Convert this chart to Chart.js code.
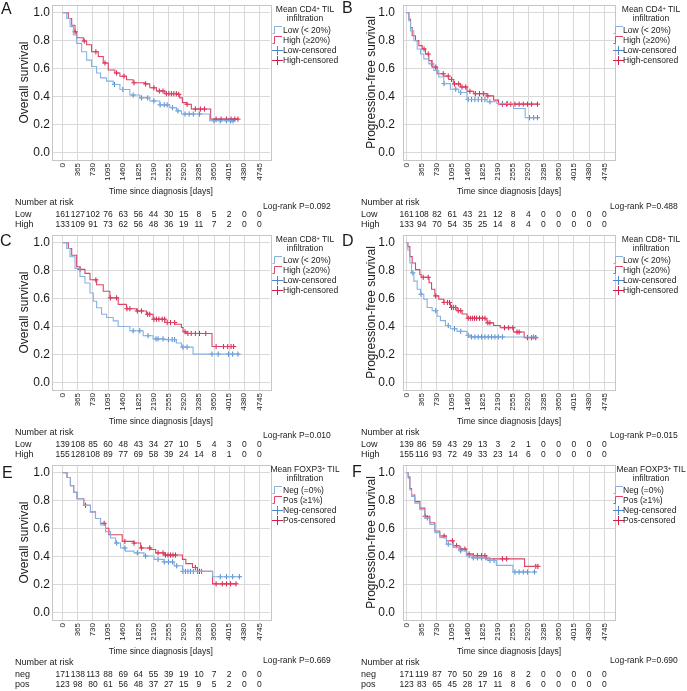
<!DOCTYPE html>
<html>
<head>
<meta charset="utf-8">
<script src="https://cdn.jsdelivr.net/npm/chart.js@4"></script>
<style>
body { margin: 0; background: #fff; }
#fig { position: relative; width: 687px; height: 691px; overflow: hidden;
  font-family: "Liberation Sans", Arial, sans-serif; color: #1a1a1a; }
#fig canvas { position: absolute; }
.t { position: absolute; white-space: nowrap; line-height: 1; }
.t sup { font-size: 0.65em; vertical-align: 0.45em; line-height: 0; }
.ic { position: absolute; line-height: 0; }
.ic svg { display: block; }
</style>
</head>
<body>
<div id="fig"></div>
<script>
// axis ticks
const xTicks = [0, 365, 730, 1095, 1460, 1825, 2190, 2555, 2920, 3285, 3650, 4015, 4380, 4745];
const yTicks = [0, 0.2, 0.4, 0.6, 0.8, 1.0];

// A - overall survival, CD4
const aLowT = [0, 96, 177, 257, 337, 457, 577, 697, 818, 914, 1059, 1219, 1380, 1620, 1861, 2101, 2342, 2583, 2743, 2864, 3545, 4107];
const aLowS = [1, 0.958, 0.9, 0.84, 0.78, 0.72, 0.66, 0.615, 0.568, 0.533, 0.51, 0.486, 0.45, 0.41, 0.39, 0.368, 0.34, 0.32, 0.297, 0.274, 0.226, 0.226];
const aLowC = [1250, 1450, 1700, 1900, 2050, 2200, 2350, 2450, 2520, 2650, 2780, 2950, 3050, 3150, 3300, 3650, 3800, 3950, 4050, 4107];
const aHighT = [0, 136, 217, 297, 337, 497, 577, 697, 858, 978, 1099, 1259, 1380, 1540, 1700, 1981, 2101, 2262, 2462, 2783, 2823, 2887, 2984, 3104, 3569, 4227];
const aHighS = [1, 0.958, 0.91, 0.863, 0.82, 0.797, 0.77, 0.72, 0.686, 0.64, 0.59, 0.568, 0.545, 0.52, 0.498, 0.49, 0.462, 0.439, 0.42, 0.415, 0.39, 0.356, 0.344, 0.31, 0.238, 0.238];
const aHighC = [300, 520, 800, 1020, 1300, 1480, 1720, 2000, 2200, 2330, 2420, 2500, 2560, 2620, 2680, 2740, 2800, 3000, 3200, 3320, 3420, 3700, 3820, 3950, 4060, 4150, 4227];
const aRiskLow = [161, 127, 102, 76, 63, 56, 44, 30, 15, 8, 5, 2, 0, 0];
const aRiskHigh = [133, 109, 91, 73, 62, 56, 48, 36, 19, 11, 7, 2, 0, 0];

// B - progression-free survival, CD4
const bLowT = [0, 56, 96, 175, 255, 335, 414, 534, 654, 773, 893, 1052, 1251, 1450, 1929, 2168, 2566, 2845, 3140];
const bLowS = [1, 0.94, 0.87, 0.8, 0.74, 0.704, 0.669, 0.634, 0.586, 0.539, 0.492, 0.452, 0.428, 0.378, 0.362, 0.35, 0.314, 0.248, 0.248];
const bLowC = [600, 900, 1180, 1300, 1480, 1560, 1640, 1720, 1800, 1880, 2000, 2300, 2420, 2950, 3050, 3140];
const bHighT = [0, 56, 96, 135, 215, 295, 375, 454, 534, 614, 733, 893, 1012, 1132, 1291, 1450, 1610, 1929, 2088, 2208, 3140];
const bHighS = [1, 0.953, 0.894, 0.835, 0.8, 0.764, 0.74, 0.704, 0.657, 0.61, 0.563, 0.546, 0.522, 0.49, 0.468, 0.437, 0.42, 0.404, 0.374, 0.345, 0.345];
const bHighC = [420, 520, 700, 880, 1000, 1080, 1150, 1250, 1330, 1420, 1520, 1650, 1750, 1850, 1950, 2300, 2400, 2500, 2600, 2700, 2800, 2900, 3000, 3140];
const bRiskLow = [161, 108, 82, 61, 43, 21, 12, 8, 4, 0, 0, 0, 0, 0];
const bRiskHigh = [133, 94, 70, 54, 35, 25, 14, 8, 4, 0, 0, 0, 0, 0];

// C - overall survival, CD8
const cLowT = [0, 96, 176, 297, 417, 537, 658, 738, 818, 938, 1059, 1219, 1339, 1620, 1941, 2181, 2462, 2743, 2863, 3144, 4227];
const cLowS = [1, 0.958, 0.899, 0.816, 0.758, 0.711, 0.64, 0.581, 0.534, 0.487, 0.464, 0.44, 0.4, 0.369, 0.334, 0.311, 0.306, 0.282, 0.252, 0.202, 0.202];
const cLowC = [1700, 1860, 2060, 2250, 2300, 2420, 2550, 2640, 2700, 2900, 3000, 3600, 3750, 4000, 4100, 4227];
const cHighT = [0, 136, 217, 337, 417, 537, 658, 818, 978, 1139, 1339, 1540, 1780, 2021, 2181, 2462, 2703, 2863, 2903, 2983, 3601, 4122];
const cHighS = [1, 0.958, 0.91, 0.828, 0.809, 0.78, 0.734, 0.699, 0.652, 0.605, 0.558, 0.527, 0.511, 0.487, 0.452, 0.428, 0.416, 0.393, 0.362, 0.35, 0.256, 0.256];
const cHighC = [420, 800, 1150, 1300, 1550, 1620, 1800, 1900, 2050, 2100, 2200, 2260, 2320, 2400, 2460, 2520, 2600, 2700, 2950, 3020, 3100, 3200, 3300, 3450, 3700, 3880, 3980, 4060, 4122];
const cRiskLow = [139, 108, 85, 60, 48, 43, 34, 27, 10, 5, 4, 3, 0, 0];
const cRiskHigh = [155, 128, 108, 89, 77, 69, 58, 39, 24, 14, 8, 1, 0, 0];

// D - progression-free survival, CD8
const dLowT = [0, 32, 80, 120, 175, 255, 335, 414, 494, 614, 733, 813, 933, 1052, 1211, 1451, 1530, 3140];
const dLowS = [1, 0.948, 0.854, 0.784, 0.725, 0.666, 0.631, 0.595, 0.536, 0.513, 0.473, 0.442, 0.407, 0.384, 0.365, 0.336, 0.325, 0.325];
const dLowC = [150, 350, 700, 1000, 1150, 1300, 1480, 1560, 1640, 1720, 1800, 1880, 1960, 2040, 2120, 2200, 2300, 3050];
const dHighT = [0, 32, 80, 135, 215, 319, 351, 540, 600, 680, 773, 893, 1052, 1211, 1331, 1451, 1889, 1929, 2088, 2248, 2566, 2821, 3140];
const dHighS = [1, 0.972, 0.9, 0.854, 0.807, 0.772, 0.752, 0.713, 0.666, 0.619, 0.595, 0.572, 0.536, 0.513, 0.489, 0.459, 0.454, 0.426, 0.407, 0.391, 0.36, 0.32, 0.32];
const dHighC = [400, 520, 700, 900, 980, 1030, 1080, 1130, 1180, 1240, 1300, 1480, 1530, 1580, 1630, 1680, 1750, 1820, 1880, 1950, 2000, 2350, 2450, 2550, 2650, 2700, 2900, 3000, 3100];
const dRiskLow = [139, 86, 59, 43, 29, 13, 3, 2, 1, 0, 0, 0, 0, 0];
const dRiskHigh = [155, 116, 93, 72, 49, 33, 23, 14, 6, 0, 0, 0, 0, 0];

// E - overall survival, FOXP3
const eNegT = [0, 105, 186, 266, 347, 508, 670, 791, 912, 1033, 1154, 1275, 1396, 1517, 1719, 1961, 2203, 2445, 2687, 2889, 3615, 4261];
const eNegS = [1, 0.965, 0.906, 0.859, 0.813, 0.766, 0.719, 0.672, 0.625, 0.578, 0.532, 0.496, 0.461, 0.438, 0.426, 0.403, 0.379, 0.361, 0.333, 0.293, 0.255, 0.255];
const eNegC = [1300, 1500, 1800, 2000, 2300, 2450, 2550, 2650, 2750, 2900, 2960, 3020, 3080, 3150, 3250, 3350, 3800, 3950, 4100, 4261];
const ePosT = [0, 105, 186, 266, 347, 508, 670, 791, 912, 1033, 1114, 1436, 1719, 1880, 2122, 2243, 2445, 2889, 2970, 3131, 3250, 3615, 4180];
const ePosS = [1, 0.965, 0.906, 0.859, 0.813, 0.766, 0.719, 0.672, 0.637, 0.602, 0.555, 0.508, 0.496, 0.461, 0.45, 0.426, 0.41, 0.379, 0.349, 0.321, 0.293, 0.204, 0.204];
const ePosC = [550, 1000, 1500, 1720, 1900, 2100, 2300, 2420, 2480, 2540, 2600, 2660, 2720, 3200, 3300, 3700, 3850, 3950, 4050, 4180];
const eRiskNeg = [171, 138, 113, 88, 69, 64, 55, 39, 19, 10, 7, 2, 0, 0];
const eRiskPos = [123, 98, 80, 61, 56, 48, 37, 27, 15, 9, 5, 2, 0, 0];

// F - progression-free survival, FOXP3
const fNegT = [0, 40, 80, 120, 199, 319, 439, 558, 678, 798, 957, 1117, 1276, 1436, 1595, 1994, 2153, 2552, 3070];
const fNegS = [1, 0.958, 0.876, 0.829, 0.782, 0.735, 0.676, 0.629, 0.571, 0.535, 0.488, 0.465, 0.441, 0.406, 0.39, 0.371, 0.336, 0.289, 0.289];
const fNegC = [500, 1000, 1300, 1500, 1600, 1700, 1800, 1900, 2000, 2100, 2600, 2700, 2800, 2900, 3070];
const fPosT = [0, 40, 80, 120, 199, 319, 439, 558, 678, 798, 957, 1117, 1276, 1436, 1595, 1914, 2831, 3150];
const fPosS = [1, 0.97, 0.887, 0.84, 0.793, 0.746, 0.688, 0.641, 0.582, 0.547, 0.512, 0.477, 0.453, 0.418, 0.406, 0.383, 0.329, 0.329];
const fPosC = [450, 900, 1100, 1200, 1300, 1400, 1500, 1600, 1700, 1800, 1880, 2300, 2400, 3100, 3150];
const fRiskNeg = [171, 119, 87, 70, 50, 29, 16, 8, 2, 0, 0, 0, 0, 0];
const fRiskPos = [123, 83, 65, 45, 28, 17, 11, 8, 6, 0, 0, 0, 0, 0];

const FONT = '"Liberation Sans", Arial, sans-serif';
const TXT = '#1a1a1a';
const blueLine = '#86b2e2', blueMark = '#4d86cc';
const redLine = '#dd4467', redMark = '#d2204a';

Chart.defaults.font.family = FONT;
Chart.defaults.color = TXT;

const fig = document.getElementById('fig');

const panels = [
  { letter: 'A', col: 0, row: 0, lx: 1, ly: 9, yTitle: 'Overall survival', marker: 'CD4', g: ['Low', 'High'], lab: ['Low (&lt; 20%)', 'High (≥20%)'], rl: ['Low', 'High'],
    lo: [aLowT, aLowS, aLowC], hi: [aHighT, aHighS, aHighC], risk: [aRiskLow, aRiskHigh], p: 'Log-rank P=0.092', py: 206 },
  { letter: 'B', col: 1, row: 0, lx: 342, ly: 8, yTitle: 'Progression-free survival', marker: 'CD4', g: ['Low', 'High'], lab: ['Low (&lt; 20%)', 'High (≥20%)'], rl: ['Low', 'High'],
    lo: [bLowT, bLowS, bLowC], hi: [bHighT, bHighS, bHighC], risk: [bRiskLow, bRiskHigh], p: 'Log-rank P=0.488', py: 206 },
  { letter: 'C', col: 0, row: 1, lx: 0, ly: 11, yTitle: 'Overall survival', marker: 'CD8', g: ['Low', 'High'], lab: ['Low (&lt; 20%)', 'High (≥20%)'], rl: ['Low', 'High'],
    lo: [cLowT, cLowS, cLowC], hi: [cHighT, cHighS, cHighC], risk: [cRiskLow, cRiskHigh], p: 'Log-rank P=0.010', py: 205 },
  { letter: 'D', col: 1, row: 1, lx: 342, ly: 11, yTitle: 'Progression-free survival', marker: 'CD8', g: ['Low', 'High'], lab: ['Low (&lt; 20%)', 'High (≥20%)'], rl: ['Low', 'High'],
    lo: [dLowT, dLowS, dLowC], hi: [dHighT, dHighS, dHighC], risk: [dRiskLow, dRiskHigh], p: 'Log-rank P=0.015', py: 205 },
  { letter: 'E', col: 0, row: 2, lx: 2, ly: 13, yTitle: 'Overall survival', marker: 'FOXP3', g: ['Neg', 'Pos'], lab: ['Neg (=0%)', 'Pos (≥1%)'], rl: ['neg', 'pos'],
    lo: [eNegT, eNegS, eNegC], hi: [ePosT, ePosS, ePosC], risk: [eRiskNeg, eRiskPos], p: 'Log-rank P=0.669', py: 200 },
  { letter: 'F', col: 1, row: 2, lx: 352, ly: 12, yTitle: 'Progression-free survival', marker: 'FOXP3', g: ['Neg', 'Pos'], lab: ['Neg (=0%)', 'Pos (≥1%)'], rl: ['neg', 'pos'],
    lo: [fNegT, fNegS, fNegC], hi: [fPosT, fPosS, fPosC], risk: [fRiskNeg, fRiskPos], p: 'Log-rank P=0.690', py: 200 }
];

function stepAt(T, S, t) {
  let s = S[0];
  for (let i = 0; i < T.length; i++) if (T[i] <= t) s = S[i];
  return s;
}

function addText(html, x, y, size, center) {
  const d = document.createElement('div');
  d.className = 't';
  d.innerHTML = html;
  d.style.fontSize = size + 'px';
  d.style.left = x + 'px';
  d.style.top = (y - size / 2) + 'px';
  if (center) d.style.transform = 'translateX(-50%)';
  fig.appendChild(d);
}

function addIcon(kind, color, x, y) {
  const d = document.createElement('div');
  d.className = 'ic';
  d.style.left = x + 'px';
  d.style.top = (y - 5) + 'px';
  const path = kind === 'line' ? 'M0.5 8.5 H2.5 V1.5 H10' : 'M0 5.5 H11 M5.5 1 V10';
  d.innerHTML = '<svg width="11" height="11"><path d="' + path + '" fill="none" stroke="' + color + '" stroke-width="1"/></svg>';
  fig.appendChild(d);
}

const borderBox = {
  id: 'borderBox',
  beforeDatasetsDraw(chart) {
    const a = chart.chartArea, ctx = chart.ctx;
    ctx.save();
    ctx.strokeStyle = '#c6c6c6';
    ctx.lineWidth = 1;
    ctx.strokeRect(Math.round(a.left) + 0.5, Math.round(a.top) + 0.5, Math.round(a.right - a.left), Math.round(a.bottom - a.top));
    ctx.restore();
  }
};

panels.forEach(p => {
  const col = p.col;
  const left = col ? 343 : 0, top = p.row * 230;
  const w = col ? 344 : 343, h = 230;
  const cv = document.createElement('canvas');
  cv.width = w; cv.height = h;
  cv.style.left = left + 'px'; cv.style.top = top + 'px';
  fig.appendChild(cv);

  const pts = (T, S) => T.map((t, i) => ({ x: t, y: S[i] }));
  const cens = (T, S, C) => C.map(c => ({ x: c, y: stepAt(T, S, c) }));
  const curve = (d, c) => ({ data: d, showLine: true, stepped: true, borderColor: c, borderWidth: 1.1, pointRadius: 0 });
  const marks = (d, c) => ({ data: d, showLine: false, pointStyle: 'cross', pointRadius: 2.6, borderColor: c, borderWidth: 1 });

  const chart = new Chart(cv, {
    type: 'scatter',
    data: {
      datasets: [
        curve(pts(p.lo[0], p.lo[1]), blueLine),
        curve(pts(p.hi[0], p.hi[1]), redLine),
        marks(cens(p.lo[0], p.lo[1], p.lo[2]), blueMark),
        marks(cens(p.hi[0], p.hi[1], p.hi[2]), redMark)
      ]
    },
    options: {
      responsive: false,
      animation: false,
      events: [],
      layout: { padding: { left: 0, right: w - (col ? 272 : 270), top: 3, bottom: 30 } },
      plugins: { legend: { display: false }, tooltip: { enabled: false } },
      scales: {
        x: {
          type: 'linear', min: col ? -85 : -270, max: 5000,
          afterBuildTicks: s => { s.ticks = xTicks.map(v => ({ value: v })); },
          afterFit: s => { s.height = 40; s.paddingLeft = 0; s.paddingRight = 0; },
          ticks: { autoSkip: false, minRotation: 90, maxRotation: 90, padding: 3, color: TXT, font: { size: 8 }, callback: v => String(v) },
          grid: { color: '#d9d9d9', drawTicks: false },
          border: { display: false },
          title: { display: true, text: 'Time since diagnosis [days]', color: TXT, font: { size: 8.5 }, padding: { top: 0, bottom: 3 } }
        },
        y: {
          type: 'linear', min: -0.055, max: 1.055,
          afterBuildTicks: s => { s.ticks = yTicks.map(v => ({ value: v })); },
          afterFit: s => { s.width = col ? 60 : 51.5; s.paddingTop = 0; s.paddingBottom = 0; },
          ticks: { callback: v => v.toFixed(1), padding: col ? 8 : 1.5, color: TXT, font: { size: 12 } },
          grid: { color: '#d9d9d9', drawTicks: false },
          border: { display: false },
          title: { display: true, text: p.yTitle, color: TXT, font: { size: 12 }, padding: { top: col ? 21.8 : 17.8, bottom: 0 } }
        }
      }
    },
    plugins: [borderBox]
  });

  // panel letter
  addText(p.letter, p.lx, top + p.ly, 16, false);

  // legend
  const icX = col ? 613 : 272, txX = col ? 623 : 283, tlX = col ? 651 : 305;
  addText('Mean ' + p.marker + '<sup>+</sup> TIL', tlX, top + 9, 8.5, true);
  addText('infiltration', tlX, top + 18.5, 8.5, true);
  const items = [
    ['line', blueLine, p.lab[0]],
    ['line', redLine, p.lab[1]],
    ['cross', blueMark, p.g[0] + '-censored'],
    ['cross', redMark, p.g[1] + '-censored']
  ];
  items.forEach((it, i) => {
    const y = top + 30 + i * 10;
    addIcon(it[0], it[1], icX, y);
    addText(it[2], txX, y, 8.5, false);
  });

  // number at risk table
  const tx = left + (col ? 18 : 15);
  addText('Number at risk', tx, top + 202, 9, false);
  addText(p.p, left + (col ? 267 : 263), top + p.py, 8.5, false);
  const xs = chart.scales.x;
  p.risk.forEach((row, r) => {
    const y = top + 214 + r * 10;
    addText(p.rl[r], tx, y, 9, false);
    row.forEach((n, i) => addText(String(n), left + xs.getPixelForValue(xTicks[i]), y, 8.5, true));
  });
});
</script>
</body>
</html>
